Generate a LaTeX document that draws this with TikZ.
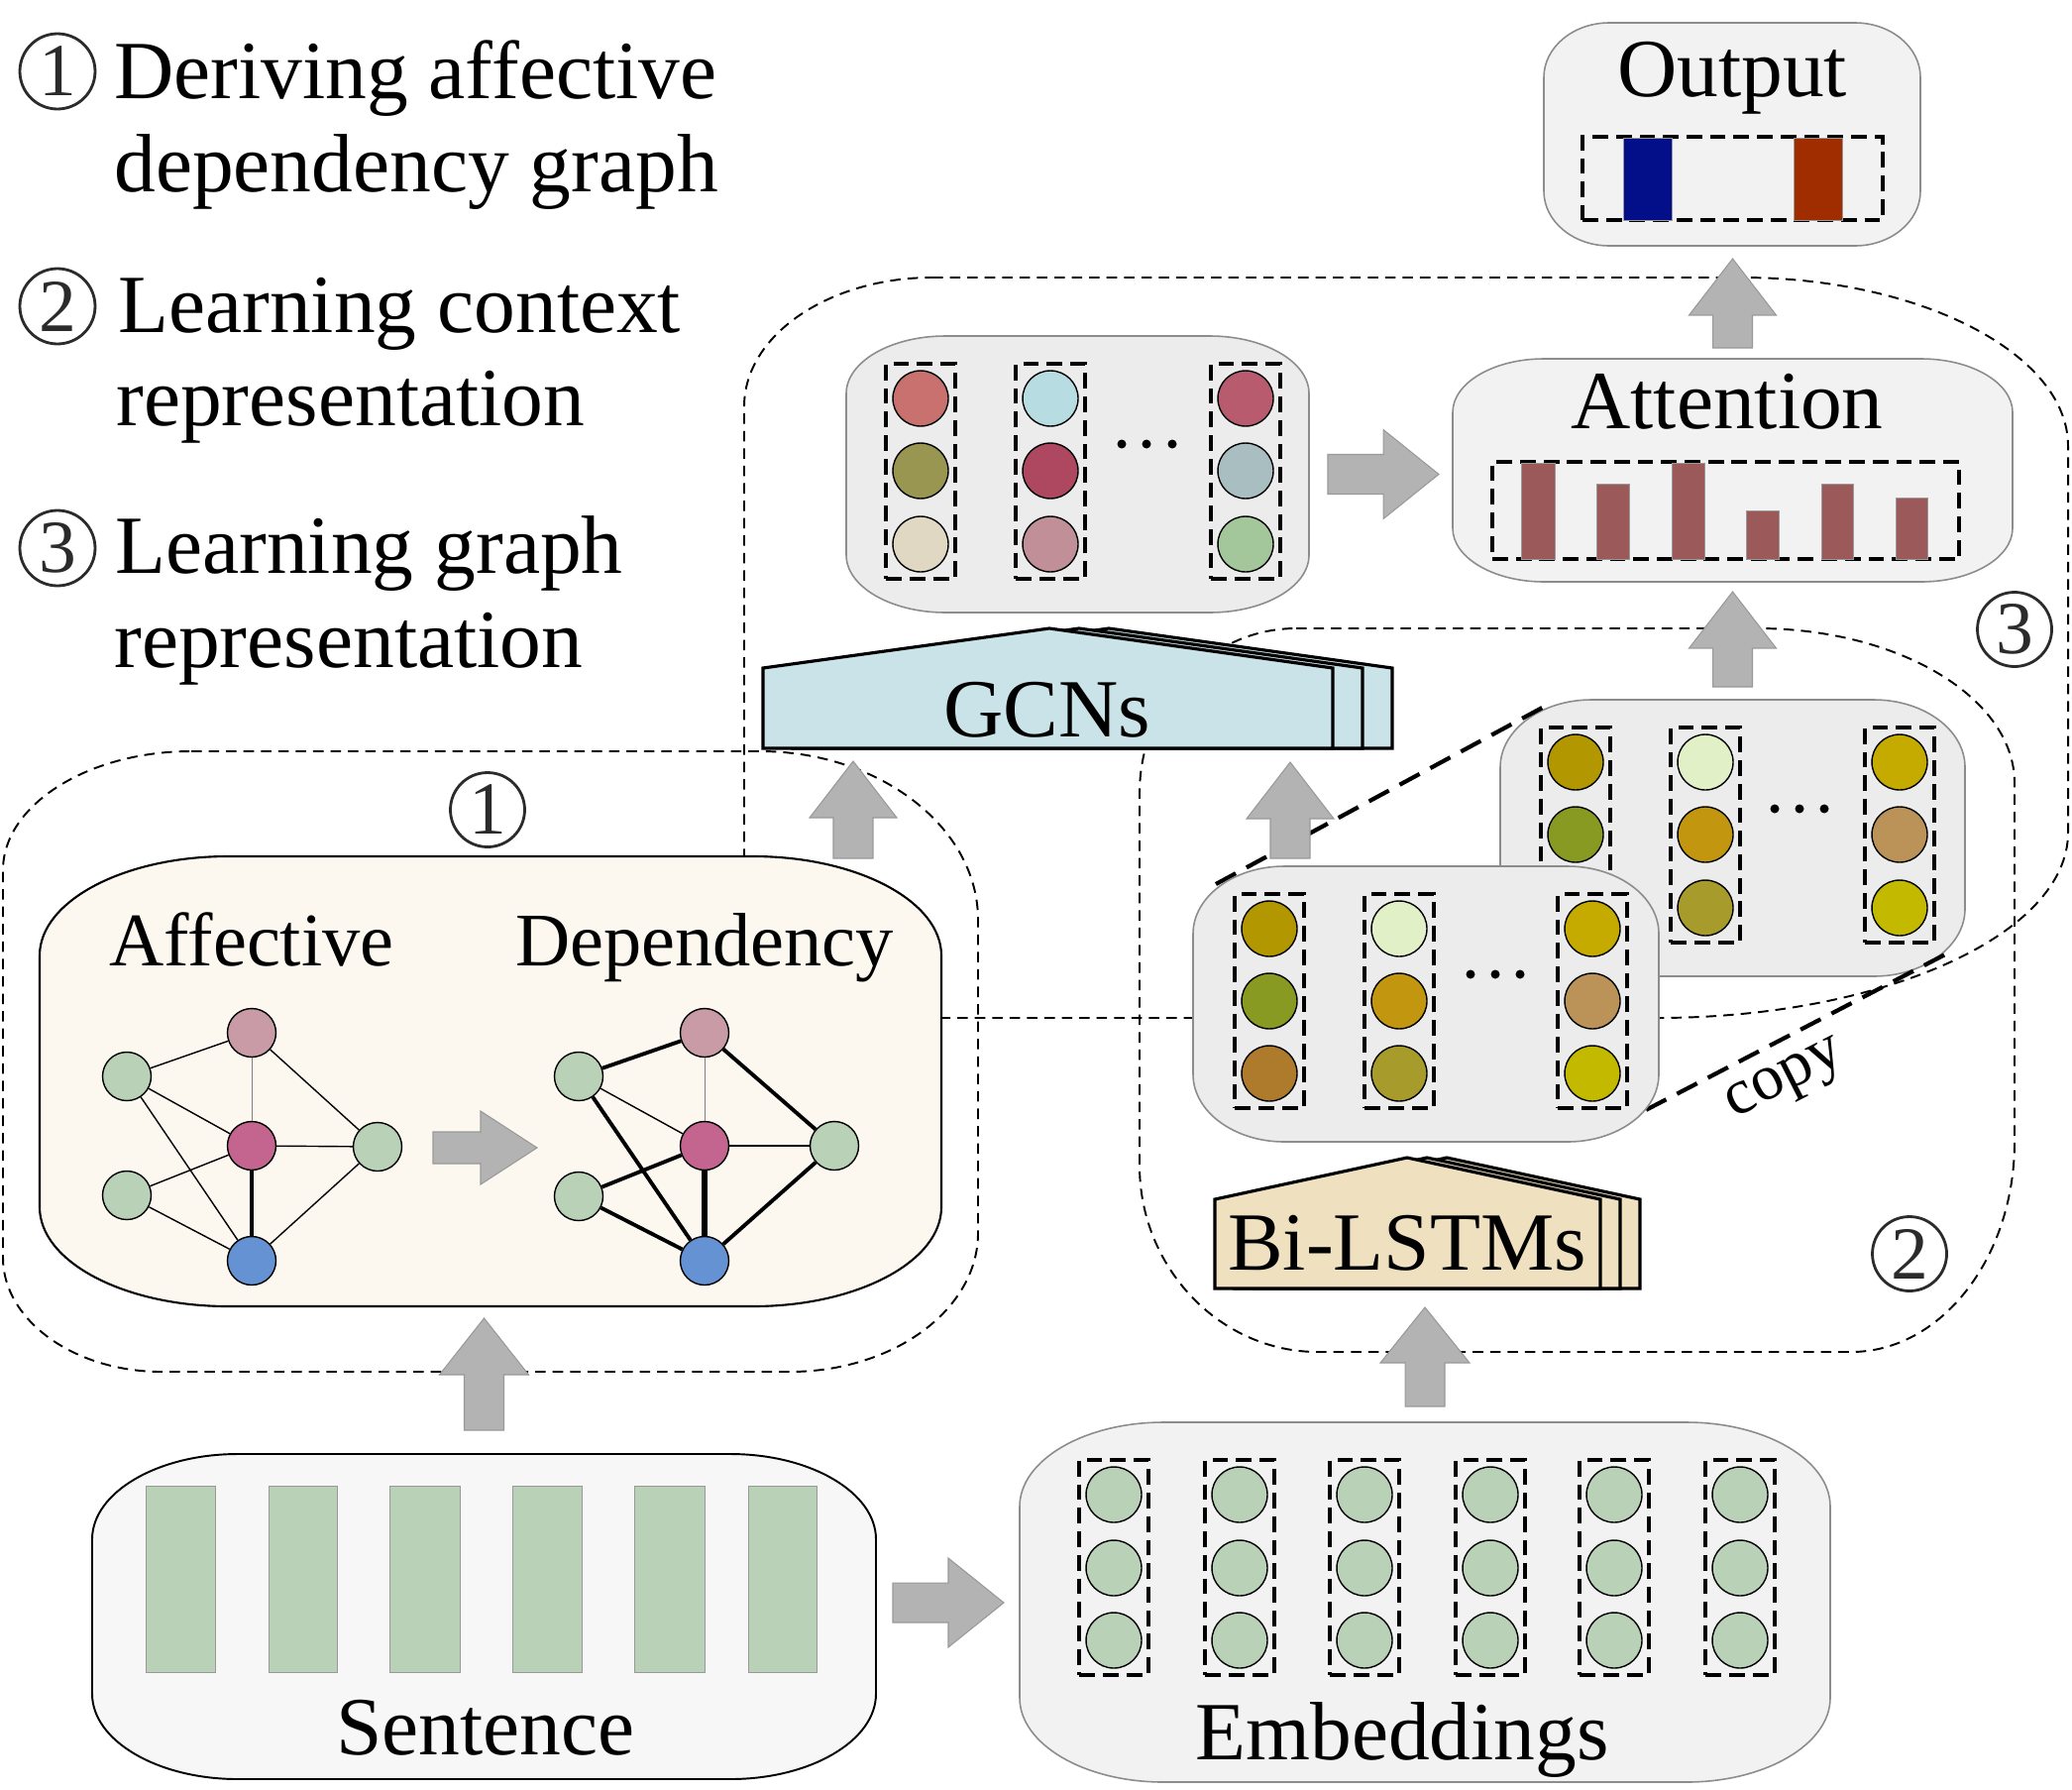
\documentclass[tikz,border=0pt]{standalone}
\usepackage{fontspec}
\setmainfont{Liberation Serif}
\usetikzlibrary{calc,fit}
\definecolor{arrowgray}{HTML}{B3B3B3}
\definecolor{arrowedge}{HTML}{999999}
\definecolor{boxgray}{HTML}{F2F2F2}
\definecolor{boxgrayb}{HTML}{ECECEC}
\definecolor{boxedge}{HTML}{8C8C8C}
\definecolor{cream}{HTML}{FCF8F0}
\definecolor{sentfill}{HTML}{F7F7F7}
\definecolor{leaf}{HTML}{B9D2B7}
\definecolor{pinkgray}{HTML}{C89BA6}
\definecolor{magentaA}{HTML}{C4658F}
\definecolor{blueA}{HTML}{6592D2}
\definecolor{gcnblue}{HTML}{C9E3E8}
\definecolor{lstmtan}{HTML}{EFE0C0}
\definecolor{attbar}{HTML}{9B5959}
\definecolor{outblue}{HTML}{020F88}
\definecolor{outred}{HTML}{A02D00}
\definecolor{numgray}{HTML}{2B2B2B}
\definecolor{gA}{HTML}{C8716E}
\definecolor{gB}{HTML}{989650}
\definecolor{gC}{HTML}{E0D8C3}
\definecolor{gD}{HTML}{B7DCE2}
\definecolor{gE}{HTML}{AD4860}
\definecolor{gF}{HTML}{C08F97}
\definecolor{gG}{HTML}{B85B6E}
\definecolor{gH}{HTML}{A9BEC0}
\definecolor{gI}{HTML}{A3C69A}
\definecolor{lA}{HTML}{B39700}
\definecolor{lB}{HTML}{899A22}
\definecolor{lC}{HTML}{AE7A2C}
\definecolor{lD}{HTML}{E1F0C6}
\definecolor{lE}{HTML}{C3960F}
\definecolor{lF}{HTML}{A79B2B}
\definecolor{lG}{HTML}{C5AA00}
\definecolor{lH}{HTML}{BB9257}
\definecolor{lI}{HTML}{C3BA00}
% rounded frame with elliptical corners around a named node
\newcommand\eframe[4]{%
 \path[#4] ($(#1.north west)+(#2,0)$) -- ($(#1.north east)+(-#2,0)$)
 .. controls ($(#1.north east)+(-0.45*#2,0)$) and ($(#1.north east)+(0,0.45*#3)$) .. ($(#1.north east)+(0,#3)$)
 -- ($(#1.south east)+(0,-#3)$)
 .. controls ($(#1.south east)+(0,-0.45*#3)$) and ($(#1.south east)+(-0.45*#2,0)$) .. ($(#1.south east)+(-#2,0)$)
 -- ($(#1.south west)+(#2,0)$)
 .. controls ($(#1.south west)+(0.45*#2,0)$) and ($(#1.south west)+(0,-0.45*#3)$) .. ($(#1.south west)+(0,-#3)$)
 -- ($(#1.north west)+(0,#3)$)
 .. controls ($(#1.north west)+(0,0.45*#3)$) and ($(#1.north west)+(0.45*#2,0)$) .. cycle;}
% block arrows
\newcommand\blkup[5]{\path[blk] let \p1=#1, \p2=#2 in (\x1-#3,\y1) -- (\x1-#3,\y2-#5) -- (\x1-#4,\y2-#5) -- (\x1,\y2) -- (\x1+#4,\y2-#5) -- (\x1+#3,\y2-#5) -- (\x1+#3,\y1) -- cycle;}
\newcommand\blkright[5]{\path[blk] let \p1=#1, \p2=#2 in (\x1,\y1-#3) -- (\x2-#5,\y1-#3) -- (\x2-#5,\y1-#4) -- (\x2,\y1) -- (\x2-#5,\y1+#4) -- (\x2-#5,\y1+#3) -- (\x1,\y1+#3) -- cycle;}
\begin{document}
\begin{tikzpicture}[x=0.02cm,y=-0.02cm,
  region/.style={draw=black, line width=1.1pt, dash pattern=on 6pt off 4pt},
  colbox/.style={rectangle, draw=black, line width=2.2pt, dash pattern=on 9pt off 4.5pt, inner sep=0.12cm},
  dbox/.style={rectangle, draw=black, line width=2.2pt, dash pattern=on 9pt off 4.5pt, inner sep=0pt},
  copyline/.style={draw=black, line width=2.4pt, dash pattern=on 13pt off 7pt},
  cnode/.style={circle, draw=black, line width=0.8pt, minimum size=1.12cm, inner sep=0pt},
  gnode/.style={circle, draw=black, line width=0.8pt, minimum size=0.98cm, inner sep=0pt},
  blk/.style={fill=arrowgray, draw=arrowedge, line width=0.6pt},
  graybox/.style={fill=boxgray, draw=boxedge, line width=0.9pt},
  graybox2/.style={fill=boxgrayb, draw=boxedge, line width=0.9pt},
  boxfit/.style={rectangle, inner sep=0pt, outer sep=0pt, draw=none},
  lbl/.style={font=\fontsize{47.5}{56}\selectfont, anchor=base, inner sep=0pt},
  lbltwo/.style={font=\fontsize{43.5}{50}\selectfont, anchor=base, inner sep=0pt},
  legend/.style={font=\fontsize{47.5}{56}\selectfont, anchor=base west, inner sep=0pt},
  numc/.style={circle, draw=numgray, line width=1.6pt, minimum size=1.52cm, inner sep=0pt, text=numgray, font=\fontsize{43}{43}\selectfont},
  barst/.style={draw=arrowedge, line width=0.5pt},
  ethin/.style={line width=0.8pt},
  egray/.style={line width=0.5pt, draw=gray},
  ethick/.style={line width=2.2pt},
  evthick/.style={line width=3pt},
  pent/.style={draw=black, line width=1.8pt, line join=miter}
]
\useasboundingbox (0,0) rectangle (2091,1805);

% ---------- legend ----------
\node[numc] (n1) at (58,72) {1};
\node[legend] (t1) at (115,99) {Deriving affective};
\node[legend] (t1b) at (115,193) {dependency graph};
\node[numc] (n2) at (58,309) {2};
\node[legend] (t2) at (119,335) {Learning context};
\node[legend] (t2b) at (117,429) {representation};
\node[numc] (n3) at (58,553) {3};
\node[legend] (t3) at (116,578) {Learning graph};
\node[legend] (t3b) at (115,673) {representation};

% ---------- dashed regions ----------
\draw[region] (193,758) -- (767,758) .. controls (888,758) and (987,835) .. (987,928) -- (987,1244) .. controls (987,1321) and (902,1384) .. (797,1384) -- (163,1384) .. controls (75,1384) and (3,1332) .. (3,1269) -- (3,878) .. controls (3,812) and (89,758) .. cycle;
\draw[region] (1308,634) -- (1773,634) .. controls (1916,634) and (2033,704) .. (2033,790) -- (2033,1152) .. controls (2033,1269) and (1959,1364) .. (1868,1364) -- (1330,1364) .. controls (1231,1364) and (1150,1279) .. (1150,1176) -- (1150,800) .. controls (1150,709) and (1221,634) .. cycle;
\draw[region] (941,280) -- (1757,280) .. controls (1938,280) and (2087,357) .. (2087,450) -- (2087,840) .. controls (2087,943) and (1900,1027) .. (1672,1027) -- (901,1027) .. controls (819,1027) and (751,982) .. (751,927) -- (751,410) .. controls (751,338) and (837,280) .. cycle;

% ---------- Output ----------
\node[boxfit, fit={(1558,23)(1938,248)}] (out) {};
\eframe{out}{66}{55}{graybox}
\node[dbox, fit={(1597,138)(1900,222)}] (outv) {};
\draw[barst, fill=outblue] (1638,139) rectangle (1687,222);
\draw[barst, fill=outred] (1810,139) rectangle (1859,222);
\node[lbl] (tOut) at (1748,97) {Output};

% ---------- Attention ----------
\node[boxfit, fit={(1466,362)(2031,587)}] (att) {};
\eframe{att}{92}{54}{graybox}
\node[dbox, fit={(1506,466)(1977,564)}] (attv) {};
\foreach \a/\b/\t in {1535/1569/467,1611/1644/488,1687/1720/467,1762/1795/515,1838/1870/488,1913/1945/502}
  \draw[barst, fill=attbar] (\a,\t) rectangle (\b,564);
\node[lbl] (tAtt) at (1743,432) {Attention};

% ---------- GCN output ----------
\node[boxfit, fit={(854,339)(1321,618)}] (gcnbox) {};
\eframe{gcnbox}{100}{58}{graybox2}
\node[cnode, fill=gA] (g11) at (929,402) {};
\node[cnode, fill=gB] (g12) at (929,475) {};
\node[cnode, fill=gC] (g13) at (929,549) {};
\node[cnode, fill=gD] (g21) at (1060,402) {};
\node[cnode, fill=gE] (g22) at (1060,475) {};
\node[cnode, fill=gF] (g23) at (1060,549) {};
\node[cnode, fill=gG] (g31) at (1257,402) {};
\node[cnode, fill=gH] (g32) at (1257,475) {};
\node[cnode, fill=gI] (g33) at (1257,549) {};
\node[colbox, fit=(g11)(g13)] (gc1) {};
\node[colbox, fit=(g21)(g23)] (gc2) {};
\node[colbox, fit=(g31)(g33)] (gc3) {};
\foreach \x in {1132,1157,1183} \fill (\x,448) circle[radius=0.09cm];

% ---------- Affective box ----------
\node[boxfit, fit={(40,864)(950,1318)}] (aff) {};
\eframe{aff}{190}{100}{fill=cream, draw=black, line width=1.2pt}
\node[lbltwo] (tAff) at (254,974) {Affective};
\node[lbltwo] (tDep) at (711,974) {Dependency};
\node[gnode, fill=pinkgray] (a1) at (254,1042) {};
\node[gnode, fill=leaf] (a2) at (128,1086) {};
\node[gnode, fill=magentaA] (a3) at (254,1156) {};
\node[gnode, fill=leaf] (a4) at (381,1157) {};
\node[gnode, fill=leaf] (a5) at (128,1206) {};
\node[gnode, fill=blueA] (a6) at (254,1272) {};
\draw[ethin] (a1) -- (a2);
\draw[ethin] (a1) -- (a4);
\draw[egray] (a1) -- (a3);
\draw[ethin] (a2) -- (a3);
\draw[ethin] (a2) -- (a6);
\draw[ethin] (a3) -- (a4);
\draw[ethin] (a3) -- (a5);
\draw[ethin] (a5) -- (a6);
\draw[ethin] (a4) -- (a6);
\draw[ethick, line width=2.6pt] (a3) -- (a6);
\node[gnode, fill=pinkgray] (b1) at (711,1042) {};
\node[gnode, fill=leaf] (b2) at (584,1086) {};
\node[gnode, fill=magentaA] (b3) at (711,1156) {};
\node[gnode, fill=leaf] (b4) at (842,1156) {};
\node[gnode, fill=leaf] (b5) at (584,1207) {};
\node[gnode, fill=blueA] (b6) at (711,1272) {};
\draw[ethick] (b1) -- (b2);
\draw[egray] (b1) -- (b3);
\draw[ethick] (b1) -- (b4);
\draw[ethin] (b2) -- (b3);
\draw[ethick] (b2) -- (b6);
\draw[ethin] (b3) -- (b4);
\draw[ethick] (b3) -- (b5);
\draw[evthick] (b3) -- (b6);
\draw[ethick] (b5) -- (b6);
\draw[ethick] (b4) -- (b6);
\coordinate (ia) at (437,1158);
\coordinate (ib) at (542,1158);
\blkright{(ia)}{(ib)}{0.32cm}{0.74cm}{1.14cm}

% ---------- Sentence ----------
\node[boxfit, fit={(93,1467)(884,1795)}] (sent) {};
\eframe{sent}{147}{86}{fill=sentfill, draw=black, line width=1.1pt}
\foreach \a/\b in {147/217,271/340,393/464,517/587,640/711,755/824}
  \draw[barst, fill=leaf] (\a,1499) rectangle (\b,1687);
\node[lbl] (tSen) at (490,1770) {Sentence};

% ---------- Embeddings ----------
\node[boxfit, fit={(1029,1435)(1847,1798)}] (emb) {};
\eframe{emb}{145}{85}{graybox}
\foreach \i/\x in {1/1124,2/1251,3/1377,4/1504,5/1629,6/1756} {
  \foreach \j/\y in {1/1508,2/1582,3/1655} { \node[cnode, fill=leaf] (e\i\j) at (\x,\y) {}; }
  \node[colbox, fit=(e\i1)(e\i3)] (ec\i) {};
}
\node[lbl] (tEmb) at (1415,1775) {Embeddings};

% ---------- LSTM back ----------
\node[boxfit, fit={(1514,706)(1983,985)}] (lstmB) {};
\eframe{lstmB}{92}{68}{graybox2}
\node[cnode, fill=lA] (p11) at (1590,769) {};
\node[cnode, fill=lB] (p12) at (1590,842) {};
\node[cnode, fill=lC] (p13) at (1590,916) {};
\node[cnode, fill=lD] (p21) at (1721,769) {};
\node[cnode, fill=lE] (p22) at (1721,842) {};
\node[cnode, fill=lF] (p23) at (1721,916) {};
\node[cnode, fill=lG] (p31) at (1917,769) {};
\node[cnode, fill=lH] (p32) at (1917,842) {};
\node[cnode, fill=lI] (p33) at (1917,916) {};
\node[colbox, fit=(p11)(p13)] (pc1) {};
\node[colbox, fit=(p21)(p23)] (pc2) {};
\node[colbox, fit=(p31)(p33)] (pc3) {};
\foreach \x in {1791,1816,1841} \fill (\x,816) circle[radius=0.09cm];

% copy lines
\coordinate (cpa) at (1227,892);
\coordinate (cpb) at (1560,712);
\coordinate (cpc) at (1630,1136);
\coordinate (cpd) at (1963,963);
\draw[copyline] (cpa) -- (cpb);
\draw[copyline] (cpc) -- (cpd);

% ---------- LSTM front ----------
\node[boxfit, fit={(1204,874)(1674,1152)}] (lstmF) {};
\eframe{lstmF}{92}{68}{graybox2}
\node[cnode, fill=lA] (q11) at (1281,937) {};
\node[cnode, fill=lB] (q12) at (1281,1010) {};
\node[cnode, fill=lC] (q13) at (1281,1083) {};
\node[cnode, fill=lD] (q21) at (1412,937) {};
\node[cnode, fill=lE] (q22) at (1412,1010) {};
\node[cnode, fill=lF] (q23) at (1412,1083) {};
\node[cnode, fill=lG] (q31) at (1607,937) {};
\node[cnode, fill=lH] (q32) at (1607,1010) {};
\node[cnode, fill=lI] (q33) at (1607,1083) {};
\node[colbox, fit=(q11)(q13)] (qc1) {};
\node[colbox, fit=(q21)(q23)] (qc2) {};
\node[colbox, fit=(q31)(q33)] (qc3) {};
\foreach \x in {1484,1509,1534} \fill (\x,983) circle[radius=0.09cm];
\node[font=\fontsize{37}{42}\selectfont, rotate=27, inner sep=0pt] (tcopy) at (1803,1092) {copy};

% ---------- GCNs block ----------
\foreach \s in {60,30,0}
  \draw[pent, fill=gcnblue] (770+\s,755) -- (770+\s,674) -- (1059+\s,634) -- (1345+\s,674) -- (1345+\s,755) -- cycle;
\node[boxfit, fit={(770,634)(1345,755)}] (gcnF) {};
\node[lbl] (tGCN) at (1057,743) {GCNs};

% ---------- Bi-LSTMs block ----------
\foreach \s in {40,20,0}
  \draw[pent, fill=lstmtan] (1226+\s,1300) -- (1226+\s,1210) -- (1420+\s,1168) -- (1615+\s,1210) -- (1615+\s,1300) -- cycle;
\node[boxfit, fit={(1226,1168)(1615,1300)}] (bilstm) {};
\node[lbl] (tBi) at (1420,1281) {Bi-LSTMs};

% ---------- block arrows ----------
\blkup{($(att.north)+(0,-11)$)}{($(out.south)+(0,13)$)}{0.4cm}{0.88cm}{1.14cm}
\blkup{($(lstmB.north)+(0,-13)$)}{($(att.south)+(0,10)$)}{0.4cm}{0.88cm}{1.14cm}
\blkright{($(gcnbox.east)+(19,0)$)}{($(att.west)+(-14,0)$)}{0.4cm}{0.9cm}{1.12cm}
\coordinate (afa) at (861,866);
\blkup{(afa)}{($(gcnF.south)+(0,13)$)}{0.4cm}{0.88cm}{1.14cm}
\coordinate (lfa) at (1302,866);
\blkup{(lfa)}{($(gcnF.south)+(0,14)$)}{0.4cm}{0.88cm}{1.14cm}
\blkup{($(emb.north)+(0,-16)$)}{($(bilstm.south)+(0,19)$)}{0.4cm}{0.9cm}{1.12cm}
\blkup{($(sent.north)+(0,-24)$)}{($(aff.south)+(0,12)$)}{0.4cm}{0.9cm}{1.14cm}
\blkright{($(sent.east)+(17,-14)$)}{($(emb.west)+(-16,0)$)}{0.4cm}{0.9cm}{1.12cm}

% ---------- region labels ----------
\node[numc, minimum size=1.5cm] (r1) at (492,817) {1};
\node[numc, minimum size=1.5cm] (r2) at (1927,1265) {2};
\node[numc, minimum size=1.5cm] (r3) at (2033,635) {3};
\end{tikzpicture}
\end{document}
